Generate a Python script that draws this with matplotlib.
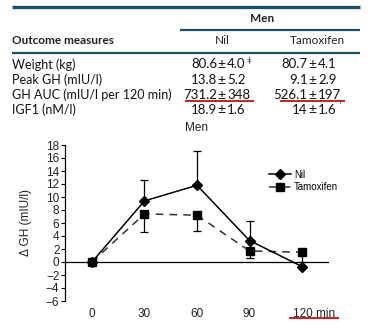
import numpy as np
import matplotlib
matplotlib.use('Agg')
import matplotlib.pyplot as plt
from matplotlib.lines import Line2D
from matplotlib.transforms import ScaledTranslation

W, H = 373, 324

# table data
row_labels = ['Weight (kg)', 'Peak GH (mIU/l)', 'GH AUC (mIU/l per 120 min)', 'IGF1 (nM/l)']
nil_mean = ['80.6', '13.8', '731.2', '18.9']
nil_sd = ['4.0', '5.2', '348', '1.6']
nil_sup = ['\u2021', '', '', '']
tam_mean = ['80.7', '9.1', '526.1', '14']
tam_sd = ['4.1', '2.9', '197', '1.6']
tam_sup = ['', '', '', "'"]

# chart data
times = [0, 30, 60, 90, 120]
nil_gh = [0, 9.4, 11.8, 3.3, -0.7]
nil_err_up = [0, 3.2, 5.3, 3.0, 0]
tam_gh = [0, 7.4, 7.2, 1.7, 1.5]
tam_err_dn = [0, 2.8, 2.4, 1.1, 1.5]
xtick_labels = ['0', '30', '60', '90', '120 min']

TEAL = '#1d5068'
RED = '#c0282d'
tfont = 'Lato'
cfont = 'Liberation Sans'
TXT = '#111111'

fig = plt.figure(figsize=(W / 100, H / 100), dpi=100)


def fx(x):
    return x / W


def fy(y):
    return 1 - y / H


def hline(x0, x1, y, color, lw):
    fig.add_artist(Line2D([fx(x0), fx(x1)], [fy(y), fy(y)], color=color, lw=lw,
                          transform=fig.transFigure, solid_capstyle='butt'))


# table rules
hline(12, 360, 6.5, TEAL, 2.4)
hline(180, 360, 30, TEAL, 1.6)
hline(12, 360, 52.5, TEAL, 1.6)

fig.text(fx(262), fy(18), 'Men', ha='center', va='center', fontsize=8.5,
         fontweight='bold', family=tfont, color='#222222')
fig.text(fx(12), fy(41), 'Outcome measures', ha='left', va='center', fontsize=8.5,
         fontweight='bold', family=tfont, color='#222222')
fig.text(fx(222), fy(41), 'Nil', ha='center', va='center', fontsize=8.5,
         family=tfont, color='#222222')
fig.text(fx(317), fy(41), 'Tamoxifen', ha='center', va='center', fontsize=8.5,
         family=tfont, color='#222222')

row_y = [64.5, 80, 95, 109.5]
for i, lab in enumerate(row_labels):
    y = fy(row_y[i])
    fig.text(fx(12), y, lab, ha='left', va='center', fontsize=9, family=tfont, color=TXT)
    fig.text(fx(217), y, nil_mean[i], ha='right', va='center', fontsize=9.5, family=tfont, color=TXT)
    fig.text(fx(221.5), y, '\u00b1', ha='center', va='center', fontsize=10, family=tfont, color=TXT)
    fig.text(fx(227), y, nil_sd[i], ha='left', va='center', fontsize=9.5, family=tfont, color=TXT)
    if nil_sup[i]:
        fig.text(fx(246), fy(row_y[i] - 4), nil_sup[i], ha='left', va='center', fontsize=6,
                 family=tfont, color=TXT)
    fig.text(fx(307.5), y, tam_mean[i], ha='right', va='center', fontsize=9.5, family=tfont, color=TXT)
    fig.text(fx(312.5), y, '\u00b1', ha='center', va='center', fontsize=10, family=tfont, color=TXT)
    fig.text(fx(318), y, tam_sd[i], ha='left', va='center', fontsize=9.5, family=tfont, color=TXT)
    if tam_sup[i]:
        fig.text(fx(339), fy(row_y[i] - 4), tam_sup[i], ha='left', va='center', fontsize=6,
                 family=tfont, color=TXT)

# red underlines
hline(185, 254, 101.5, RED, 1.5)
hline(280, 345, 101, RED, 1.5)

# chart
ax = fig.add_axes([fx(65), fy(301), fx(329) - fx(65), fy(145) - fy(301)])
ax.set_xlim(-15.4, 135.4)
ax.set_ylim(-6, 18)
ax.axhline(0, color='black', lw=0.9, zorder=1)

ax.errorbar(times, nil_gh, yerr=[np.zeros(len(times)), nil_err_up], fmt='none',
            ecolor='black', elinewidth=0.9, capsize=3, capthick=0.9, zorder=2)
ax.errorbar(times, tam_gh, yerr=[tam_err_dn, np.zeros(len(times))], fmt='none',
            ecolor='black', elinewidth=0.9, capsize=3, capthick=0.9, zorder=2)
ax.plot(times, tam_gh, color='#333333', lw=1.1, dashes=(5, 4), marker='s',
        markersize=5.5, markerfacecolor='black', markeredgecolor='black', zorder=3,
        label='Tamoxifen')
ax.plot(times, nil_gh, color='black', lw=1.1, marker='D', markersize=5,
        markerfacecolor='black', markeredgecolor='black', zorder=4, label='Nil')

for s in ['top', 'right', 'bottom']:
    ax.spines[s].set_visible(False)
ax.spines['left'].set_linewidth(0.9)
ax.set_yticks(np.arange(-6, 19, 2))
ax.set_yticklabels([str(v).replace('-', '\u2212') for v in range(-6, 19, 2)],
                   family=cfont, fontsize=8.5, color='#222222')
ax.tick_params(axis='y', length=3, width=0.8, pad=1)
ax.set_xticks(times)
ax.set_xticklabels(xtick_labels, family=cfont, fontsize=8.5, color='#222222')
ax.tick_params(axis='x', length=0, pad=5)
last = ax.get_xticklabels()[-1]
last.set_ha('left')
last.set_transform(last.get_transform() + ScaledTranslation(-9 / 100, 0, fig.dpi_scale_trans))
ax.set_ylabel('\u0394 GH (mIU/l)', family=cfont, fontsize=8.5, color='#222222', labelpad=10)
ax.set_title('Men', family=cfont, fontsize=8.5, color='#222222', pad=10)

h = ax.get_legend_handles_labels()
leg = ax.legend(h[0][::-1], h[1][::-1], loc='upper left', bbox_to_anchor=(fx(264), fy(165)),
                bbox_transform=fig.transFigure, frameon=False, prop={'family': cfont, 'size': 7},
                handlelength=2.3, handletextpad=0.3, labelspacing=0.25, borderpad=0)

hline(289, 339, 317.5, RED, 1.5)

fig.savefig('out.png', dpi=100)
